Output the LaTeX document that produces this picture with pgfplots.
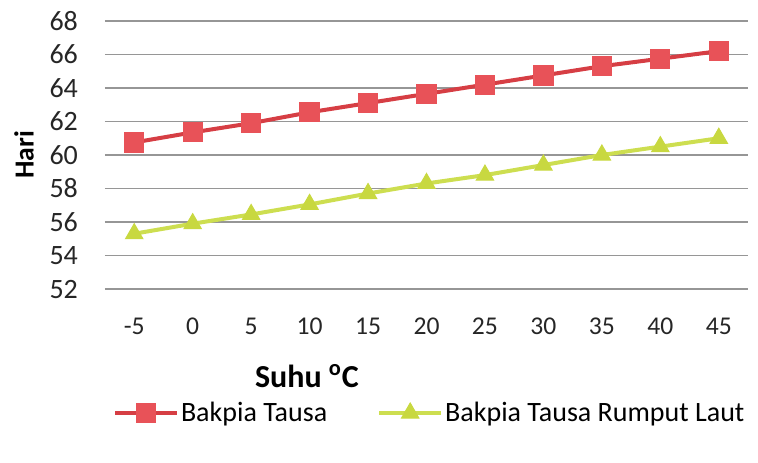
\documentclass[border=0pt]{standalone}
\usepackage{fontspec}
\setmainfont{Carlito}
\usepackage{pgfplots}
\pgfplotsset{compat=1.18}
\definecolor{redline}{RGB}{214,62,68}
\definecolor{redfill}{RGB}{232,82,88}
\definecolor{grnline}{RGB}{205,222,80}
\definecolor{grnfill}{RGB}{200,216,64}
\definecolor{gridc}{RGB}{150,150,150}
\begin{document}
\begin{tikzpicture}
\begin{axis}[
  scale only axis,
  width=321.5pt, height=134pt,
  xmin=-0.5, xmax=10.5,
  ymin=52, ymax=68,
  xtick={0,...,10},
  xticklabels={-5,0,5,10,15,20,25,30,35,40,45},
  ytick={52,54,...,68},
  ymajorgrids,
  grid style={gridc, line width=0.6pt},
  axis line style={draw=none},
  axis x line*=bottom,
  axis y line*=left,
  major tick length=0pt,
  /pgf/number format/assume math mode=true,
  ticklabel style={text=black!85},
  xticklabel style={yshift=-11pt, font=\fontsize{12.8}{14}\selectfont},
  yticklabel style={xshift=-10pt, font=\fontsize{14}{16}\selectfont},
  ylabel={\textbf{Hari}},
  ylabel style={at={(rel axis cs:0,0.5)}, anchor=center, yshift=40.5pt, font=\fontsize{13.8}{15}\selectfont},
  xlabel={\textbf{Suhu \textsuperscript{o}C}},
  xlabel style={at={(rel axis cs:0,0)}, anchor=center, xshift=101pt, yshift=-43.5pt, font=\fontsize{16}{18}\selectfont},
  legend columns=2,
  legend style={draw=none, fill=none, at={(rel axis cs:0.505,0)}, anchor=center, yshift=-62pt,
    font=\fontsize{14}{16}\selectfont, nodes={inner xsep=1pt},
    /tikz/every even column/.append style={column sep=24pt}},
  legend image code/.code={
    \draw[#1, mark repeat=2, mark phase=2] plot coordinates {(0pt,0pt) (15.5pt,0pt) (31pt,0pt)};
  },
]
\addplot[redline, line width=2pt, mark=square*, mark size=4.8pt, mark options={fill=redfill, draw=redfill, line width=0.5pt}]
  coordinates {(0,60.75) (1,61.35) (2,61.9) (3,62.55) (4,63.1) (5,63.65) (6,64.2) (7,64.75) (8,65.3) (9,65.75) (10,66.2)};
\addlegendentry{Bakpia Tausa}
\addplot[grnline, line width=2pt, mark=triangle*, mark size=5pt, mark options={fill=grnfill, draw=grnfill, line width=0.5pt}]
  coordinates {(0,55.3) (1,55.9) (2,56.45) (3,57.05) (4,57.7) (5,58.3) (6,58.8) (7,59.4) (8,60.0) (9,60.5) (10,61.0)};
\addlegendentry{Bakpia Tausa Rumput Laut}
\end{axis}
\path (current axis.south west) ++(-52.5pt,-86.5pt) rectangle ++(379pt,231pt);
\end{tikzpicture}
\end{document}
